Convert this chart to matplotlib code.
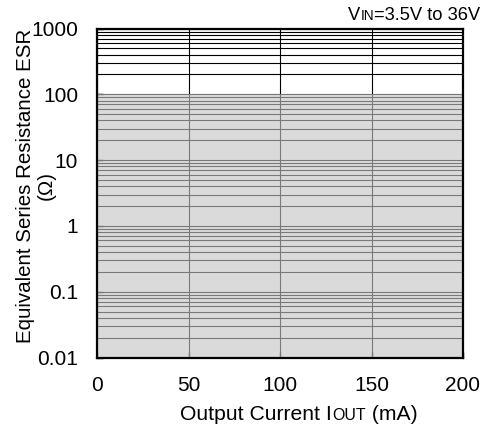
import matplotlib
matplotlib.use("Agg")
import matplotlib.pyplot as plt
import numpy as np
from matplotlib.offsetbox import TextArea, HPacker, AnchoredOffsetbox

plt.rcParams["font.family"] = ["Liberation Sans", "DejaVu Sans"]

# stable region of output capacitor ESR vs output current
iout = [0, 200]
esr_low = [0.01, 0.01]
esr_high = [100, 100]

x_ticks = [0, 50, 100, 150, 200]
y_ticks = [0.01, 0.1, 1, 10, 100, 1000]
y_labels = ["0.01", "0.1", "1", "10", "100", "1000"]

fig = plt.figure(figsize=(4.88, 4.33), dpi=100)
ax = fig.add_axes([97 / 488, 1 - 357.5 / 433, 366 / 488, 329 / 433])

ax.set_yscale("log")
ax.set_xlim(0, 200)
ax.set_ylim(0.01, 1000)

ax.grid(which="both", axis="y", color="black", lw=0.8)
ax.grid(which="major", axis="x", color="black", lw=0.8)

ax.fill_between(iout, esr_low, esr_high, color="#c4c4c4", alpha=0.62,
                lw=0, zorder=2)

ax.set_xticks(x_ticks)
ax.set_yticks(y_ticks)
ax.set_yticklabels(y_labels)
ax.tick_params(which="major", direction="in", length=4, width=1,
               labelsize=15, color="black")
ax.tick_params(axis="y", pad=13.5)
ax.tick_params(axis="x", pad=13)
ax.tick_params(which="minor", length=0)
for s in ax.spines.values():
    s.set_linewidth(1.6)
    s.set_zorder(3)

fig.text(36 / 488, 1 - 186 / 433, "Equivalent Series Resistance ESR\n(Ω)",
         rotation=90, ha="center", va="center", multialignment="center",
         fontsize=14.8, linespacing=1.15)


def small_caps(parts, xy, loc):
    kids = [TextArea(t, textprops=dict(fontsize=s)) for t, s in parts]
    box = HPacker(children=kids, align="baseline", pad=0, sep=0)
    ab = AnchoredOffsetbox(loc=loc, child=box, bbox_to_anchor=xy,
                           bbox_transform=fig.transFigure, frameon=False,
                           pad=0, borderpad=0)
    fig.add_artist(ab)


small_caps([("Output Current I", 15.2), ("OUT", 11.4), (" (mA)", 15.2)],
           (299 / 488, 1 - 414 / 433), "center")
small_caps([("V", 13.2), ("IN", 9.9), ("=3.5V to 36V", 13.2)],
           (480 / 488, 1 - 16 / 433), "center right")

fig.savefig("out.png", dpi=100)
